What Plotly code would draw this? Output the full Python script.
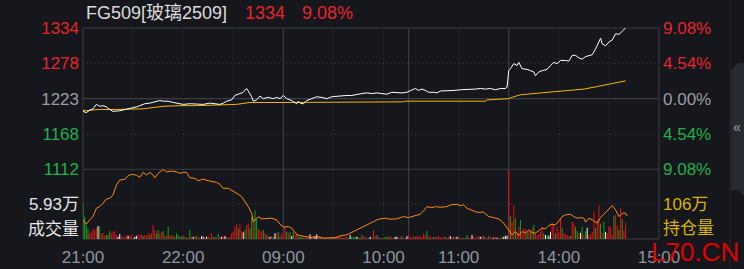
import plotly.graph_objects as go

# ---------------- data ----------------
symbol_label = "FG509[玻璃2509]"
prev_settle = 1223
price_ticks = [1112, 1167.5, 1223, 1278.5, 1334]
price_tick_labels = ["1112", "1168", "1223", "1278", "1334"]
time_tick_pos = [0, 60, 120, 180, 225, 285, 345]          # trading-minute index (21:00 = 0)
time_tick_labels = ["21:00", "22:00", "09:00", "10:00", "11:00", "14:00", "15:00"]
session_minutes = 345
grid_solid_min = [120, 195, 255]
grid_dotted_min = [30, 60, 90, 150, 180, 225, 285, 315]

price_min = [0, 2, 4, 6, 8, 10, 12, 14, 16, 18, 22, 26, 29, 32, 34, 37, 40, 43, 46, 48,
             51, 54, 57, 60, 64, 68, 72, 76, 79, 82, 84, 86, 89, 91, 94, 96, 98, 100, 101, 102,
             104, 106, 108, 111, 114, 116, 118, 120, 122, 124, 125, 128, 129, 130, 132, 134, 137, 140, 143, 146,
             149, 152, 155, 158, 161, 164, 167, 170, 173, 176, 179, 182, 185, 188, 191, 194, 197, 199, 201, 203,
             205, 207, 210, 212, 214, 217, 220, 223, 226, 229, 232, 235, 238, 241, 244, 247, 250, 253, 254, 255,
             256, 258, 260, 261, 263, 266, 268, 270, 271, 273, 275, 278, 280, 282, 284, 286, 289, 291, 293, 295,
             297, 299, 301, 303, 305, 307, 309, 310, 311, 313, 315, 317, 319, 321, 323, 325]
price_val = [1203, 1201, 1205, 1207, 1214, 1211, 1212, 1210, 1206, 1203, 1204, 1206, 1208, 1210, 1212, 1215, 1216, 1218, 1220, 1219,
             1219, 1217, 1216, 1214, 1215, 1214, 1214, 1216, 1215, 1214, 1216, 1219, 1221, 1228, 1231, 1233, 1239, 1231, 1226, 1219,
             1221, 1227, 1223, 1225, 1223, 1225, 1223, 1228, 1223, 1221, 1220, 1215, 1219, 1216, 1215, 1220, 1223, 1226, 1225, 1223,
             1226, 1227, 1227, 1228, 1228, 1230, 1231, 1232, 1231, 1232, 1231, 1230, 1233, 1232, 1232, 1233, 1236, 1239, 1236, 1238,
             1236, 1233, 1233, 1232, 1235, 1235, 1235, 1236, 1237, 1237, 1238, 1238, 1239, 1238, 1239, 1237, 1239, 1239, 1241, 1267,
             1270, 1278, 1275, 1280, 1270, 1269, 1267, 1265, 1259, 1265, 1267, 1269, 1275, 1280, 1278, 1283, 1283, 1282, 1291, 1291,
             1287, 1285, 1289, 1291, 1292, 1301, 1312, 1318, 1309, 1306, 1312, 1315, 1325, 1324, 1329, 1334]

avg_min = [0, 2, 5, 10, 20, 36, 42, 48, 58, 68, 92, 100, 120, 165, 166, 192, 193, 241, 242, 254,
           255, 258, 262, 270, 280, 290, 300, 308, 314, 318, 325]
avg_val = [1205, 1204, 1205, 1206, 1206, 1207, 1209, 1211, 1212, 1212, 1214, 1217, 1217, 1217, 1218, 1218, 1219, 1219, 1221, 1222,
           1223, 1226, 1229, 1231, 1233, 1236, 1238, 1242, 1245, 1248, 1251]

# open interest, in 万 lots
oi_min = [0, 2, 4, 6, 8, 10, 12, 14, 16, 18, 20, 22, 25, 27, 29, 32, 34, 36, 38, 40,
          42, 43, 45, 48, 50, 53, 56, 58, 60, 62, 64, 67, 69, 72, 75, 78, 80, 82, 84, 87,
          90, 93, 95, 97, 99, 101, 102, 104, 105, 107, 110, 113, 116, 118, 120, 123, 125, 127, 128, 130,
          136, 140, 144, 152, 154, 158, 162, 166, 170, 174, 177, 181, 184, 188, 192, 195, 199, 202, 204, 206,
          209, 211, 214, 218, 220, 224, 226, 228, 230, 233, 236, 240, 243, 246, 249, 252, 255, 257, 259, 261,
          263, 265, 267, 269, 271, 273, 275, 277, 279, 281, 283, 285, 287, 289, 292, 294, 296, 298, 300, 301,
          303, 305, 308, 310, 312, 314, 316, 317, 319, 321, 323, 325, 326]
oi_val = [104.42, 103.99, 104.42, 104.75, 105.59, 105.75, 106.09, 106.52, 106.59, 106.92, 107.92, 108.42, 108.49, 108.85, 108.99, 108.92, 108.69, 109.19, 108.92, 109.19,
          108.92, 108.65, 109.09, 109.49, 109.25, 109.32, 109.25, 109.09, 109.19, 109.19, 108.65, 108.59, 108.35, 108.52, 108.35, 108.25, 108.19, 107.99, 107.59, 107.59,
          107.32, 106.99, 106.75, 106.25, 105.75, 105.09, 104.25, 104.59, 104.75, 104.52, 104.59, 104.59, 104.42, 103.99, 103.69, 103.75, 103.59, 103.09, 102.92, 102.85,
          102.65, 102.75, 102.59, 102.65, 102.82, 102.92, 103.25, 103.52, 103.92, 104.19, 104.49, 104.59, 104.49, 104.52, 104.75, 104.65, 104.85, 104.99, 105.32, 105.75,
          105.65, 105.75, 105.69, 105.75, 105.92, 105.99, 105.85, 105.92, 105.59, 105.42, 105.19, 105.19, 104.75, 104.65, 104.52, 104.09, 103.42, 102.92, 103.25, 102.85,
          103.25, 103.09, 103.42, 103.15, 103.09, 103.32, 103.59, 103.52, 103.85, 103.99, 103.92, 104.32, 104.75, 104.92, 104.99, 104.75, 104.59, 104.65, 104.59, 104.19,
          104.59, 104.42, 104.09, 104.65, 104.99, 105.25, 105.65, 105.85, 105.42, 104.75, 105.09, 105.09, 104.82]
oi_mid = 106

# volume per minute (万 lots), minute 0 .. 325, and bar direction (r=up, g=down, w=flat)
volume = [6.10, 3.78, 2.37, 1.69, 0.96, 1.24, 1.69, 1.52, 1.81, 2.20,
          2.09, 0.96, 1.07, 0.56, 0.68, 0.68, 1.36, 0.96, 1.24, 1.36,
          0.68, 0.40, 0.85, 0.40, 0.45, 0.25, 0.68, 0.56, 0.56, 0.68,
          0.25, 0.40, 0.56, 0.79, 0.68, 0.79, 0.56, 0.68, 0.56, 0.96,
          0.68, 0.96, 2.37, 1.52, 0.96, 1.52, 0.96, 1.24, 1.36, 0.56,
          0.56, 2.09, 0.56, 0.68, 0.56, 0.40, 0.96, 0.68, 0.56, 0.40,
          0.56, 0.40, 0.23, 0.20, 1.52, 0.40, 0.40, 0.56, 0.51, 0.40,
          0.20, 0.51, 0.40, 0.40, 0.40, 0.56, 0.20, 0.96, 0.40, 0.40,
          0.20, 0.85, 0.40, 0.40, 0.51, 0.51, 0.40, 0.20, 0.40, 0.96,
          1.24, 2.09, 2.49, 1.81, 2.49, 1.36, 1.13, 1.52, 2.37, 2.65,
          1.81, 3.78, 3.50, 4.91, 3.50, 1.81, 1.52, 1.24, 1.52, 0.96,
          0.68, 0.51, 0.40, 0.51, 0.40, 0.96, 0.96, 1.24, 0.40, 0.96,
          0.40, 2.09, 1.24, 0.96, 1.24, 0.51, 1.13, 0.68, 0.96, 0.40,
          0.40, 0.40, 0.20, 0.23, 0.20, 0.56, 0.79, 0.40, 0.56, 0.40,
          0.79, 0.51, 0.40, 0.40, 0.20, 0.15, 0.23, 0.23, 0.15, 0.34,
          0.40, 0.15, 0.51, 0.56, 0.40, 0.40, 0.15, 0.40, 0.40, 0.15,
          0.68, 0.40, 0.40, 0.40, 0.40, 0.40, 0.15, 0.68, 0.51, 0.40,
          0.23, 0.15, 0.40, 0.20, 1.52, 0.56, 0.68, 0.40, 0.15, 0.23,
          0.15, 0.40, 0.40, 0.40, 0.51, 0.23, 0.15, 0.40, 0.40, 0.23,
          0.40, 0.51, 0.15, 0.23, 0.51, 0.68, 0.40, 0.23, 0.51, 0.40,
          0.51, 0.40, 0.51, 0.20, 0.79, 0.68, 1.36, 0.40, 0.51, 0.23,
          0.40, 0.40, 0.40, 0.51, 0.40, 0.23, 0.40, 0.40, 0.23, 0.40,
          0.51, 0.40, 0.40, 0.40, 0.40, 0.51, 0.23, 0.15, 0.23, 0.15,
          0.68, 0.40, 0.15, 0.68, 0.40, 0.23, 0.40, 0.51, 0.40, 0.51,
          0.51, 0.40, 0.23, 0.51, 0.40, 0.40, 0.23, 0.40, 0.23, 0.23,
          0.23, 0.40, 0.40, 0.56, 0.56, 11.69, 3.90, 2.94, 5.76, 3.50,
          0.96, 2.09, 3.22, 0.96, 1.81, 1.69, 1.24, 1.36, 1.24, 1.81,
          2.37, 0.96, 0.68, 0.79, 1.24, 2.09, 0.96, 0.68, 0.68, 0.56,
          1.24, 2.65, 2.37, 0.96, 2.09, 1.24, 3.50, 1.92, 0.96, 0.79,
          0.68, 0.51, 0.56, 2.94, 2.65, 2.09, 1.36, 0.96, 1.07, 2.09,
          0.68, 1.36, 1.92, 0.68, 0.79, 1.24, 4.63, 1.81, 3.22, 5.65,
          2.65, 0.96, 2.94, 1.24, 0.96, 2.20, 2.09, 0.68, 3.95, 4.07,
          2.37, 1.52, 5.31, 3.39, 1.36, 2.77]
volume_dir = ("ggggrrrrrw" "grrrgggrrr" "rwwrrrrwrr" "gwwrrrgrrr" "grrrggrrgr"
              "rgrrgrggrg" "grrggrwrgr" "rwwrwrgrrg" "rgrwrwrgrr" "rrrgrrwgrr"
              "ggrggrrrgr" "grwrgwrggr" "rrgrgwgrrg" "ggrrgrwgrw" "wrgrrgrrgr"
              "rgrrrgrrrg" "wgggwrggrr" "rgwrrrgrrg" "rggrrgrwwr" "rgrrwrrrrg"
              "rrrrrrgrrr" "grrrrrrgrr" "wrgrwrgrrg" "grrwrrrrwr" "grrgrrwrwr"
              "rgwwwrgrrg" "rrgrrrgrgr" "grrrrrgwgw" "wrrgrrrgrr" "rrgrrggrwg"
              "rgwrrrrgrr" "grgwrrrrgr" "rgrgrr")
vol_mid_label = 5.93   # 万, the middle grid line of the volume panel

assert len(price_min) == len(price_val)
assert len(avg_min) == len(avg_val)
assert len(oi_min) == len(oi_val)
assert len(volume) == len(volume_dir)

# ---------------- style ----------------
BG = "#15171c"
GRID = "#3a3d43"
RED = "#e8232c"
GREEN = "#1fb04a"
GRAY = "#9a9da3"
GOLD = "#d8b400"
FONT = "Liberation Sans, Noto Sans CJK SC, sans-serif"

W, H = 744, 269
L, R, T, B = 83, 85, 28, 30
plot_h = H - T - B
split = (239 - 169.3) / plot_h  # paper y of the price / volume separator


def level_color(v):
    if v > prev_settle:
        return RED
    if v < prev_settle:
        return GREEN
    return GRAY


left_text = [f'<span style="color:{level_color(v)}">{t}</span>'
             for v, t in zip(price_ticks, price_tick_labels)]
right_text = [f'<span style="color:{level_color(v)}">{abs(v - prev_settle) / prev_settle * 100:.2f}%</span>'
              for v in price_ticks]

bar_colors = [{"r": "#e60f14", "g": "#13a213", "w": "#f0f0f0"}[d] for d in volume_dir]
bar_x = list(range(len(volume)))

fig = go.Figure()
fig.add_trace(go.Bar(x=bar_x, y=volume, width=0.62, marker=dict(color=bar_colors, line_width=0),
                     xaxis="x", yaxis="y3", hoverinfo="skip"))
fig.add_trace(go.Scatter(x=oi_min, y=oi_val, mode="lines", line=dict(color="#ff8a10", width=1),
                         xaxis="x", yaxis="y4", hoverinfo="skip"))
fig.add_trace(go.Scatter(x=avg_min, y=avg_val, mode="lines", line=dict(color="#f5b800", width=1),
                         xaxis="x", yaxis="y", hoverinfo="skip"))
fig.add_trace(go.Scatter(x=price_min, y=price_val, mode="lines", line=dict(color="#ffffff", width=1),
                         xaxis="x", yaxis="y", hoverinfo="skip"))
# empty trace so that the right percentage axis is rendered
fig.add_trace(go.Scatter(x=[None], y=[None], xaxis="x", yaxis="y2", hoverinfo="skip"))

shapes = []
# frame
shapes.append(dict(type="rect", xref="paper", yref="paper", x0=0, x1=1, y0=0, y1=1,
                   line=dict(color=GRID, width=1), layer="below"))
shapes.append(dict(type="line", xref="paper", yref="paper", x0=0, x1=1, y0=split, y1=split,
                   line=dict(color=GRID, width=1), layer="below"))
shapes.append(dict(type="line", xref="paper", yref="y", x0=0, x1=1, y0=prev_settle, y1=prev_settle,
                   line=dict(color=GRID, width=1.2), layer="below"))
for v in (price_ticks[1], price_ticks[3]):
    shapes.append(dict(type="line", xref="paper", yref="y", x0=0, x1=1, y0=v, y1=v,
                       line=dict(color=GRID, width=1, dash="1px,3px"), layer="below"))
shapes.append(dict(type="line", xref="paper", yref="y3", x0=0, x1=1, y0=vol_mid_label, y1=vol_mid_label,
                   line=dict(color=GRID, width=1, dash="1px,3px"), layer="below"))
for m in grid_solid_min:
    shapes.append(dict(type="line", xref="x", yref="paper", x0=m, x1=m, y0=0, y1=1,
                       line=dict(color=GRID, width=1.2), layer="below"))
for m in grid_dotted_min:
    shapes.append(dict(type="line", xref="x", yref="paper", x0=m, x1=m, y0=0, y1=1,
                       line=dict(color=GRID, width=1, dash="1px,3px"), layer="below"))


# right-hand side strip of the app window
def px(x):
    return (x - L) / (W - L - R)


def py(y):
    return (H - B - y) / plot_h


shapes.append(dict(type="line", xref="paper", yref="paper", x0=px(730), x1=px(730), y0=py(0), y1=py(269),
                   line=dict(color="#26292e", width=1)))
shapes.append(dict(type="path", xref="paper", yref="paper",
                   path=f"M {px(731)},{py(70)} L {px(738)},{py(63)} L {px(744)},{py(63)} L {px(744)},{py(196)} "
                        f"L {px(738)},{py(190)} L {px(731)},{py(190)} Z",
                   fillcolor="#272a30", line=dict(width=0)))

last_price = price_val[-1]
pct = (last_price - prev_settle) / prev_settle * 100

annotations = [
    dict(text=symbol_label, xref="paper", yref="paper", x=px(84), y=py(13), xanchor="left", yanchor="middle",
         showarrow=False, font=dict(family=FONT, size=18, color="#dcdcdc")),
    dict(text=f"{last_price}", xref="paper", yref="paper", x=px(243), y=py(13), xanchor="left", yanchor="middle",
         showarrow=False, font=dict(family=FONT, size=18, color=level_color(last_price))),
    dict(text=f"{pct:.2f}%", xref="paper", yref="paper", x=px(300), y=py(13), xanchor="left", yanchor="middle",
         showarrow=False, font=dict(family=FONT, size=18, color=level_color(last_price))),
    dict(text="成交量", xref="paper", yref="paper", x=px(81), y=py(229), xanchor="right", yanchor="middle",
         showarrow=False, font=dict(family=FONT, size=17, color="#e6e6e6")),
    dict(text="持仓量", xref="paper", yref="paper", x=px(661), y=py(228.5), xanchor="left", yanchor="middle",
         showarrow=False, font=dict(family=FONT, size=17, color=GOLD)),
    dict(text="L70.CN", xref="paper", yref="paper", x=px(695), y=py(251.5), xanchor="center", yanchor="middle",
         showarrow=False, font=dict(family=FONT, size=26, color="#e00000")),
    dict(text="«", xref="paper", yref="paper", x=px(737), y=py(127), xanchor="center", yanchor="middle",
         showarrow=False, font=dict(family=FONT, size=14, color="#a0a0a0")),
]

axis_common = dict(showgrid=False, zeroline=False, showline=False, ticks="", fixedrange=True, automargin=False)

fig.update_layout(
    width=W, height=H,
    margin=dict(l=L, r=R, t=T, b=B, pad=0, autoexpand=False),
    paper_bgcolor=BG, plot_bgcolor=BG,
    showlegend=False,
    font=dict(family=FONT, size=17, color=GRAY),
    xaxis=dict(range=[0, session_minutes], tickvals=time_tick_pos, ticktext=time_tick_labels,
               anchor="y3", tickfont=dict(size=17, color="#8e949c"), ticklabelstandoff=6, **axis_common),
    yaxis=dict(domain=[split, 1], range=[price_ticks[0], price_ticks[-1]], tickvals=price_ticks,
               ticktext=left_text, side="left", tickfont=dict(size=17), ticklabelstandoff=3, **axis_common),
    yaxis2=dict(overlaying="y", range=[price_ticks[0], price_ticks[-1]], tickvals=price_ticks,
                ticktext=right_text, side="right", anchor="x", tickfont=dict(size=17), ticklabelstandoff=3,
                **axis_common),
    yaxis3=dict(domain=[0, split], range=[0, 2 * vol_mid_label], tickvals=[vol_mid_label],
                ticktext=[f"{vol_mid_label:.2f}万"], side="left", tickfont=dict(size=17, color="#e6e6e6"),
                ticklabelstandoff=3, **axis_common),
    yaxis4=dict(overlaying="y3", range=[oi_mid - 3.5, oi_mid + 3.5], tickvals=[oi_mid],
                ticktext=[f"{oi_mid}万"], side="right", anchor="x", tickfont=dict(size=17, color=GOLD),
                ticklabelstandoff=3, **axis_common),
    shapes=shapes,
    annotations=annotations,
)

fig.write_html("out.html", config={"displayModeBar": False, "staticPlot": True})
